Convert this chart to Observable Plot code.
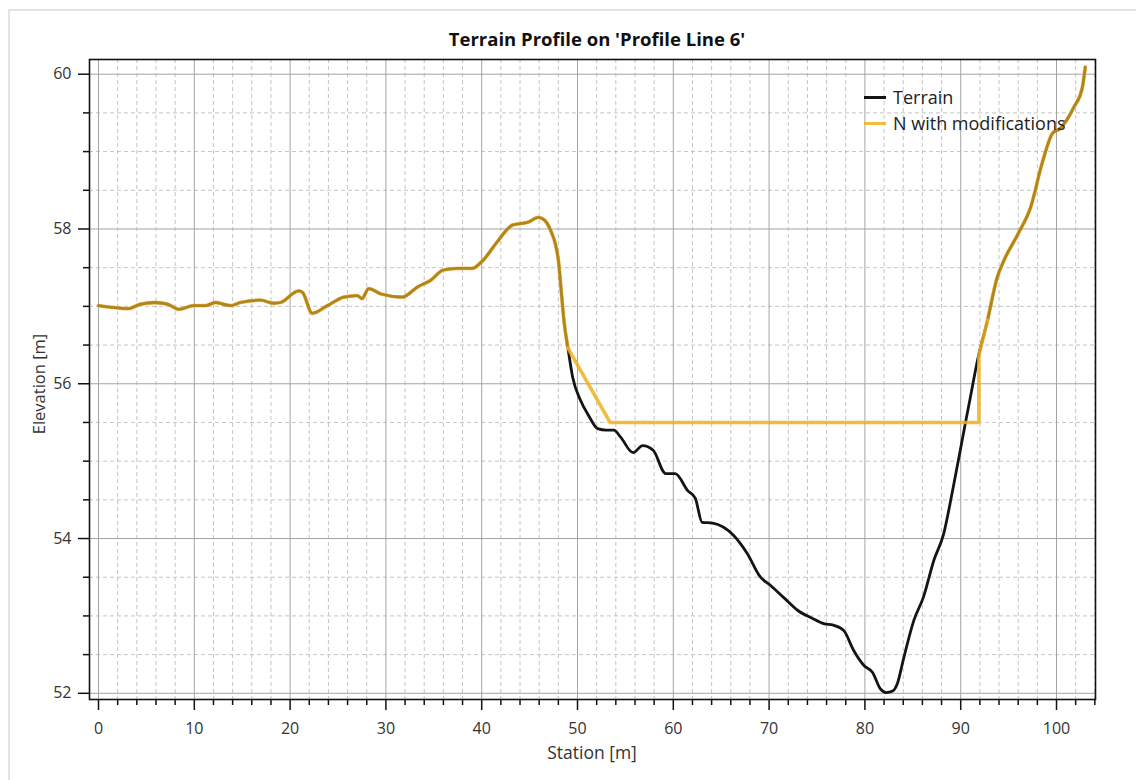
<!DOCTYPE html>
<html>
<head>
<meta charset="utf-8">
<script src="https://cdn.jsdelivr.net/npm/d3@7"></script>
<script src="https://cdn.jsdelivr.net/npm/@observablehq/plot@0.6"></script>
<style>
  html, body { margin: 0; padding: 0; background: #fff; }
  #wrap { position: relative; width: 1136px; height: 780px; overflow: hidden; font-family: "Open Sans", "Noto Sans", sans-serif; }
  #win { position: absolute; left: 8px; top: 9px; right: -4px; bottom: -4px; border-left: 2px solid #e4e4e4; border-top: 2px solid #e4e4e4; }
  #chart { position: absolute; left: 0; top: 0; }
  .title { position: absolute; top: 38px; left: 597px; transform: translate(-50%, -50%); font-weight: 700; font-size: 18.5px; color: #111; white-space: nowrap; }
  .ylab { position: absolute; left: 38px; top: 384px; transform: translate(-50%, -50%) rotate(-90deg); font-size: 16.5px; color: #333; white-space: nowrap; }
  .xlab { position: absolute; left: 592px; top: 752px; transform: translate(-50%, -50%); font-size: 17.5px; color: #333; white-space: nowrap; }
  .legend { position: absolute; left: 864px; top: 84px; font-size: 18px; color: #222; }
  .legend .row { display: flex; align-items: center; height: 26px; }
  .legend .sw { width: 22px; height: 3px; margin-right: 7px; }
</style>
</head>
<body>
<div id="wrap">
  <div id="win"></div>
  <div id="chart"></div>
  <div class="title">Terrain Profile on 'Profile Line 6'</div>
  <div class="ylab">Elevation [m]</div>
  <div class="xlab">Station [m]</div>
  <div class="legend" id="legend"></div>
</div>
<script>
// ---- data ----
const terrainStation = [0, 1.2, 3.1, 4.4, 5.9, 7.2, 8.4, 9.9, 11.2, 12.2, 13.8, 14.8, 16.9, 18.3, 19.0, 20.9, 21.3, 22.3, 23.9, 25.6, 27.0, 27.5, 28.2, 29.5, 31.7, 33.3, 34.7, 36.0, 37.5, 39.0, 40.1, 41.6, 43.2, 44.9, 45.9, 46.5, 47.2, 47.7, 48.0, 48.3, 48.6, 49.0, 49.5, 50.3, 51.2, 52.1, 53.0, 53.8, 54.5, 55.8, 56.8, 57.9, 59.2, 60.2, 61.5, 62.3, 63.0, 64.1, 66.3, 67.7, 69.1, 70.1, 71.5, 73.0, 74.5, 75.7, 76.7, 77.8, 78.8, 79.9, 80.8, 81.6, 82.2, 82.9, 83.4, 84.0, 85.1, 86.1, 87.2, 88.2, 89.2, 90.5, 91.0, 91.75, 92.8, 93.8, 94.5, 96.0, 97.3, 98.5, 99.6, 100.4, 101.8, 102.7, 103.0];
const terrainElev = [57.01, 56.99, 56.97, 57.03, 57.05, 57.03, 56.96, 57.01, 57.01, 57.05, 57.01, 57.05, 57.08, 57.04, 57.05, 57.2, 57.18, 56.91, 57.01, 57.12, 57.14, 57.1, 57.23, 57.16, 57.12, 57.25, 57.34, 57.47, 57.49, 57.49, 57.59, 57.83, 58.05, 58.09, 58.15, 58.12, 57.98, 57.8, 57.6, 57.2, 56.8, 56.46, 56.08, 55.79, 55.58, 55.42, 55.4, 55.4, 55.31, 55.11, 55.2, 55.14, 54.84, 54.84, 54.62, 54.52, 54.21, 54.2, 54.04, 53.81, 53.5, 53.4, 53.24, 53.07, 52.97, 52.9, 52.88, 52.81, 52.56, 52.36, 52.27, 52.06, 52.01, 52.03, 52.13, 52.43, 52.94, 53.24, 53.72, 54.05, 54.65, 55.5, 55.82, 56.3, 56.82, 57.37, 57.59, 57.94, 58.28, 58.85, 59.24, 59.30, 59.57, 59.83, 60.09];

// modified section of "N with modifications" (replaces terrain between these stations)
const modStation = [49.0, 53.4, 91.9, 91.9, 92.8];
const modElev = [56.46, 55.5, 55.5, 56.37, 56.82];

const xTicks = [0, 10, 20, 30, 40, 50, 60, 70, 80, 90, 100];
const yTicks = [52, 54, 56, 58, 60];
const seriesNames = ["Terrain", "N with modifications"];
const seriesColors = ["#141414", "#F0B020"];

// ---- tables ----
const terrain = terrainStation.map((s, i) => ({station: s, elev: terrainElev[i]}));
const modPts = modStation.map((s, i) => ({station: s, elev: modElev[i]}));
const modTerrainParts = [
  ...terrain.filter(d => d.station <= modStation[0]).map(d => ({...d, part: "a"})),
  ...terrain.filter(d => d.station >= modStation[modStation.length - 1]).map(d => ({...d, part: "b"}))
];

const xMinor = d3.range(0, 105, 2).filter(v => v % 10 !== 0);
const yMinor = d3.range(52, 60.01, 0.5).filter(v => v % 2 !== 0);

const fontFam = '"Open Sans", "Noto Sans", sans-serif';

const chart = Plot.plot({
  width: 1136,
  height: 780,
  marginLeft: 89,
  marginRight: 41,
  marginTop: 59,
  marginBottom: 81,
  style: {fontFamily: fontFam, fontSize: "16px", color: "#333", background: "transparent", overflow: "visible"},
  x: {domain: [-0.94, 104.07], label: null},
  y: {domain: [51.92, 60.19], label: null},
  marks: [
    Plot.gridX(xMinor, {stroke: "#c4c4c4", strokeOpacity: 1, strokeDasharray: "4,3", strokeWidth: 1}),
    Plot.gridY(yMinor, {stroke: "#c4c4c4", strokeOpacity: 1, strokeDasharray: "4,3", strokeWidth: 1}),
    Plot.gridX(xTicks, {stroke: "#a4a4a4", strokeOpacity: 1, strokeWidth: 1}),
    Plot.gridY(yTicks, {stroke: "#a4a4a4", strokeOpacity: 1, strokeWidth: 1}),
    Plot.axisX(xMinor, {tickSize: 6, text: null, label: null, stroke: "#111", strokeWidth: 1.5}),
    Plot.axisY(yMinor, {tickSize: 6, text: null, label: null, stroke: "#111", strokeWidth: 1.5}),
    Plot.axisX(xTicks, {tickSize: 11, tickPadding: 12, label: null, stroke: "#111", strokeWidth: 1.5, fill: "#333", fontSize: 16, tickFormat: "d"}),
    Plot.axisY(yTicks, {tickSize: 11, tickPadding: 7, label: null, stroke: "#111", strokeWidth: 1.5, fill: "#333", fontSize: 16, tickFormat: "d"}),
    Plot.line(terrain, {x: "station", y: "elev", stroke: seriesColors[0], strokeWidth: 2.8, curve: "monotone-x"}),
    Plot.line(modTerrainParts, {x: "station", y: "elev", z: "part", stroke: seriesColors[1], strokeWidth: 3.8, strokeOpacity: 0.72, curve: "monotone-x"}),
    Plot.line(modPts, {x: "station", y: "elev", stroke: seriesColors[1], strokeWidth: 3.6, strokeOpacity: 0.85, curve: "linear"}),
    Plot.frame({stroke: "#111", strokeWidth: 1.6})
  ]
});
document.getElementById("chart").appendChild(chart);

const leg = document.getElementById("legend");
seriesNames.forEach((n, i) => {
  const row = document.createElement("div");
  row.className = "row";
  const sw = document.createElement("div");
  sw.className = "sw";
  sw.style.background = seriesColors[i];
  if (i === 1) sw.style.opacity = 0.85;
  const t = document.createElement("span");
  t.textContent = n;
  row.appendChild(sw); row.appendChild(t);
  leg.appendChild(row);
});
</script>
</body>
</html>
